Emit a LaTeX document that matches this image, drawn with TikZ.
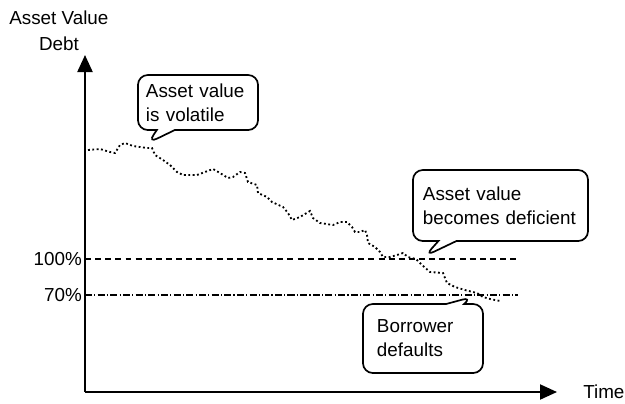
\documentclass[tikz,border=0pt]{standalone}
\usepackage{fontspec}
\setmainfont{Liberation Sans}
\usetikzlibrary{
  shapes.callouts
  , arrows.meta
  , positioning
}

\begin{document}
\begin{tikzpicture}[
        x=0.025cm, y=-0.025cm,
        font=\fontsize{13.4}{17}\selectfont
      ]
      \tikzstyle{axis}=[line width=1.5pt, -{Triangle[length=0.425cm, width=0.375cm]}];
      \tikzstyle{callout template}=[rectangle callout, draw=black, line width=1.2pt,
        rounded corners=7pt, align=left, callout pointer width=0.45cm];

      \useasboundingbox (0,0) rectangle (625,403);

      % axes
      \coordinate (O) at (85,392);
      \coordinate (Ytip) at (85,55);
      \coordinate (Xtip) at (557,392);
      \draw [axis] (O) -- (Ytip);
      \draw [axis] (O) -- (Xtip);

      \node [anchor=west, inner sep=0] (assetvalue) at (9,18) {Asset Value};
      \node [inner sep=0] (debt) at (59,44) {Debt};
      \node [anchor=west, inner sep=0] (time) at (583,392) {Time};

      % levels
      \coordinate (L100) at (85,259);
      \coordinate (L100_end) at (517,259);
      \coordinate (L70) at (85,295);
      \coordinate (L70_end) at (518,295);
      \draw [line width=1pt, dash pattern=on 4.2pt off 3pt] (L100) -- (L100_end);
      \draw [line width=1pt, dash pattern=on 5pt off 1.6pt on 0.8pt off 1.6pt] (L70) -- (L70_end);
      \node [left=2pt of L100, inner sep=0] (label100) {100\%};
      \node [left=2pt of L70, inner sep=0] (label70) {70\%};

      % ------
      \draw [line width=1.3pt, dash pattern=on 1.3pt off 1.8pt]
      plot coordinates {(88,150) (100,149) (110,152) (115,153) (120,145) (125,143)
          (133,146) (147,148) (152,148) (155,155) (163,160) (170,165) (177,172)
          (183,175) (197,175) (205,172) (213,169) (220,173) (228,178) (233,177)
          (240,172) (245,173) (248,182) (257,185) (258,193) (267,197) (272,202)
          (283,207) (288,213) (292,220) (300,217) (310,211) (313,218) (320,223)
          (333,225) (340,222) (347,222) (352,227) (355,232) (360,232) (365,230)
          (367,235) (368,243) (375,247) (380,252) (383,257) (390,257) (397,255)
          (403,253) (408,257) (416,259) (422,265) (430,272) (443,273) (447,283)
          (455,287) (465,290) (477,293) (483,297) (490,299) (500,301)};

      % callouts
      \coordinate (volatile_tip) at (148,143);
      \coordinate (deficient_tip) at (425,256);
      \coordinate (default_tip) at (472,297);

      \node [callout template
          , inner xsep=0.2cm
          , text width=2.6cm
          , minimum height=1.375cm
          , callout absolute pointer={(volatile_tip)}
        ] (volatile) at (198,102.5) {Asset value\\is volatile};

      \node [callout template
          , inner xsep=0.25cm
          , text width=3.875cm
          , minimum height=1.775cm
          , callout absolute pointer={(deficient_tip)}
        ] (deficient) at (500.5,205.5) {Asset value\\becomes deficient};

      \node [callout template
          , inner xsep=0.35cm
          , text width=2.3cm
          , minimum height=1.725cm
          , callout absolute pointer={(default_tip)}
        ] (defaults) at (423,338.5) {Borrower\\defaults};

    \end{tikzpicture}
\end{document}
